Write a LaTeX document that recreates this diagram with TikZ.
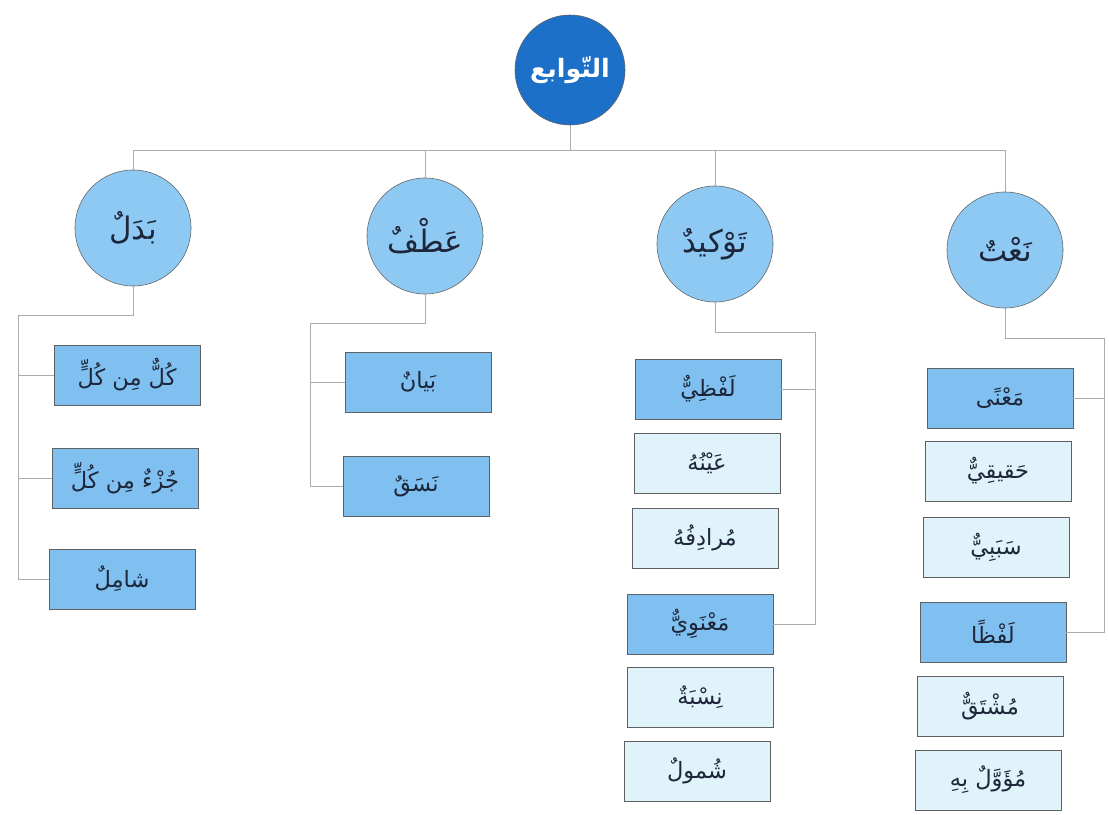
\documentclass[tikz,border=0pt]{standalone}
\usepackage{fontspec}
\newfontfamily\arabicfont[Script=Arabic]{DejaVu Sans}
\TeXXeTstate=1
\usetikzlibrary{calc}
\definecolor{rootblue}{RGB}{28,112,200}
\definecolor{catblue}{RGB}{142,201,243}
\definecolor{keyblue}{RGB}{128,192,240}
\definecolor{subblue}{RGB}{224,243,251}
\definecolor{ink}{RGB}{30,38,58}
\newcommand{\arab}[1]{{\arabicfont\beginR #1\endR}}

\begin{document}
\begin{tikzpicture}[x=0.025cm,y=-0.025cm]
\tikzstyle{cat}=[circle,draw=gray!75!black,fill=catblue,minimum size=2.9cm,inner sep=0pt,text=ink,font=\fontsize{22}{26}\selectfont]
\tikzstyle{b}=[draw=gray!75!black,minimum width=3.65cm,minimum height=1.5cm,inner sep=0pt,text=ink,font=\fontsize{16}{19}\selectfont]
\tikzstyle{ln}=[draw=gray!65,line width=0.6pt]
\useasboundingbox (0,0) rectangle (1109,814);
% root and the four kinds
\node[cat,fill=rootblue,minimum size=2.75cm,text=white,font=\fontsize{18}{21}\selectfont\bfseries] (root) at (570,70) {\arab{التّوابع}};
\foreach \n/\x/\y/\t in {badal/133/228/بَدَلٌ, atf/425/236/عَطْفٌ, tawkid/715/244/تَوْكيدٌ, naat/1005/250/نَعْتٌ} \node[cat] (\n) at (\x,\y) {\arab{\t}};
\coordinate (busL) at (133,150);
\coordinate (busR) at (1005,150);
\draw[ln] (badal.north) -- (busL) -- (busR) -- (naat.north);
\foreach \n in {root,atf,tawkid} \draw[ln] (\n) -- (\n |- busL);
% badal
\foreach \n/\x/\y/\c/\t in {b1/127/375/keyblue/كُلٌّ مِن كُلٍّ, b2/125/478/keyblue/جُزْءٌ مِن كُلٍّ, b3/122/579/keyblue/شامِلٌ} \node[b,fill=\c] (\n) at (\x,\y) {\arab{\t}};
\coordinate (bdTop) at (18,315);
\draw[ln] (badal.south) |- (bdTop) |- (b3.west);
\foreach \n in {b1,b2} \draw[ln] (\n.west) -- (\n.west -| bdTop);
% atf
\foreach \n/\x/\y/\c/\t in {a1/418/382/keyblue/بَيانٌ, a2/416/486/keyblue/نَسَقٌ} \node[b,fill=\c] (\n) at (\x,\y) {\arab{\t}};
\coordinate (atTop) at (310,323);
\draw[ln] (atf.south) |- (atTop) |- (a2.west);
\draw[ln] (a1.west) -- (a1.west -| atTop);
% tawkid
\foreach \n/\x/\y/\c/\t in {t1/708/389/keyblue/لَفْظِيٌّ, t2/707/463/subblue/عَيْنُهُ, t3/705/538/subblue/مُرادِفُهُ, t4/700/624/keyblue/مَعْنَوِيٌّ, t5/700/697/subblue/نِسْبَةٌ, t6/697/771/subblue/شُمولٌ} \node[b,fill=\c] (\n) at (\x,\y) {\arab{\t}};
\coordinate (tkTop) at (815,332);
\draw[ln] (tawkid.south) |- (tkTop) |- (t4.east);
\draw[ln] (t1.east) -- (t1.east -| tkTop);
% naat
\foreach \n/\x/\y/\c/\t in {n1/1000/398/keyblue/مَعْنًى, n2/998/471/subblue/حَقيقِيٌّ, n3/996/547/subblue/سَبَبِيٌّ, n4/993/632/keyblue/لَفْظًا, n5/990/706/subblue/مُشْتَقٌّ, n6/988/780/subblue/مُؤَوَّلٌ بِهِ} \node[b,fill=\c] (\n) at (\x,\y) {\arab{\t}};
\coordinate (ntTop) at (1104,338);
\draw[ln] (naat.south) |- (ntTop) |- (n4.east);
\draw[ln] (n1.east) -- (n1.east -| ntTop);
\end{tikzpicture}
\end{document}
